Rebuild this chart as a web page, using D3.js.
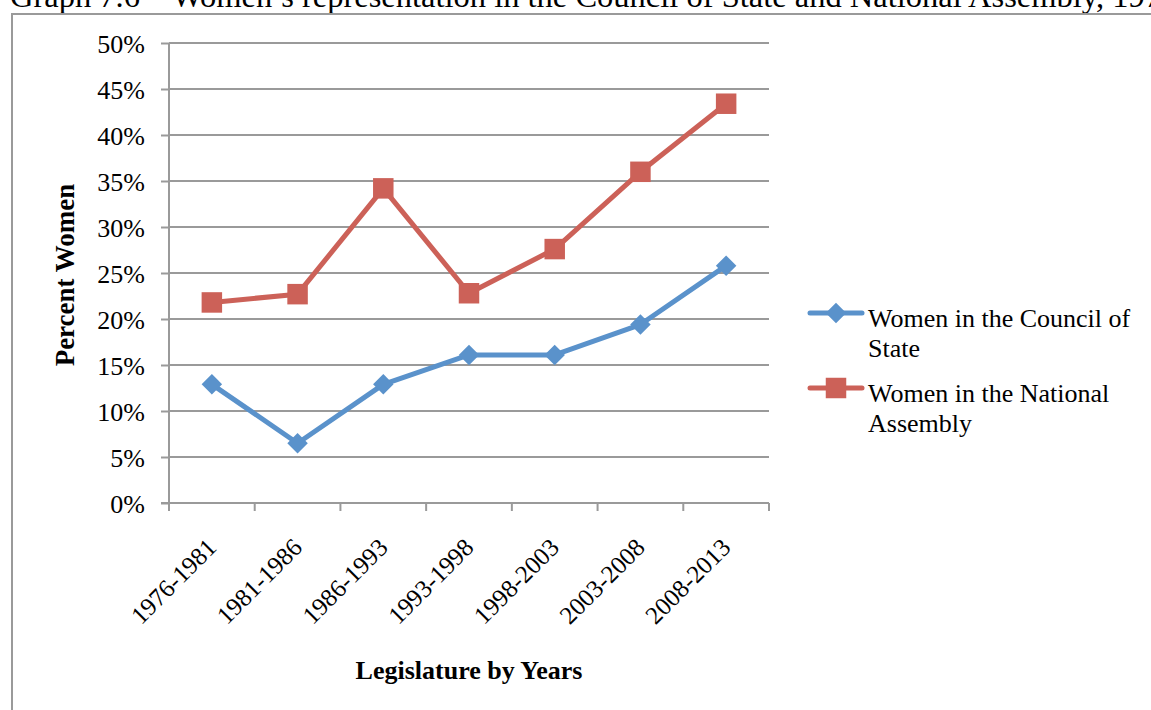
<!DOCTYPE html>
<html>
<head>
<meta charset="utf-8">
<script src="https://cdn.jsdelivr.net/npm/d3@7/dist/d3.min.js"></script>
<style>
  body { margin: 0; background: #fff; }
  svg text { font-family: "Liberation Serif", "Times New Roman", serif; fill: #000; }
</style>
</head>
<body>
<div id="chart"></div>
<script>
// Legislature periods on the x axis
const periods = ["1976-1981", "1981-1986", "1986-1993", "1993-1998", "1998-2003", "2003-2008", "2008-2013"];

// Percent women
const councilOfState = [12.9, 6.5, 12.9, 16.1, 16.1, 19.4, 25.8];
const nationalAssembly = [21.8, 22.7, 34.2, 22.8, 27.6, 36.0, 43.4];

const yTicks = [0, 5, 10, 15, 20, 25, 30, 35, 40, 45, 50];

const seriesNames = ["Women in the Council of State", "Women in the National Assembly"];
const legendLines = [["Women in the Council of", "State"], ["Women in the National", "Assembly"]];

const width = 1151, height = 710;
const plot = { left: 169, right: 769, top: 43, bottom: 503 };
const blue = "#5A92CB", red = "#CC6158", grid = "#9a9a9a";
const fontSize = "26px";

const svg = d3.select("#chart").append("svg")
    .attr("width", width)
    .attr("height", height);

// Cut-off caption above the chart frame (only its lower half shows)
svg.append("text")
    .attr("x", 10)
    .attr("y", 7)
    .style("font-size", "32.5px")
    .text("Graph 7.6 \u2013 Women\u2019s representation in the Council of State and National Assembly, 1976-2013");

// Chart frame (runs off the right and bottom edges)
svg.append("rect")
    .attr("x", 12)
    .attr("y", 14)
    .attr("width", 1160)
    .attr("height", 720)
    .attr("fill", "#fff")
    .attr("stroke", grid)
    .attr("stroke-width", 2);

const x = d3.scaleBand().domain(periods).range([plot.left, plot.right]);
const y = d3.scaleLinear().domain([0, 50]).range([plot.bottom, plot.top]);

// Gridlines
svg.append("g").selectAll("line")
    .data(yTicks.filter(t => t > 0))
    .join("line")
    .attr("x1", plot.left).attr("x2", plot.right)
    .attr("y1", d => y(d)).attr("y2", d => y(d))
    .attr("stroke", grid).attr("stroke-width", 2);

// Y axis
const yAxis = svg.append("g")
    .attr("transform", `translate(${plot.left},0)`)
    .call(d3.axisLeft(y).tickValues(yTicks).tickSize(8).tickPadding(16).tickFormat(d => d + "%"));
yAxis.selectAll("path, line").attr("stroke", grid).attr("stroke-width", 2);
yAxis.select(".domain").attr("d", `M0,${plot.top}V${plot.bottom}`);
yAxis.selectAll("text").style("font-size", fontSize).attr("dy", "0.35em");

// X axis: ticks sit on the band edges
const xAxis = svg.append("g").attr("transform", `translate(0,${plot.bottom})`);
xAxis.append("line")
    .attr("x1", plot.left - 8).attr("x2", plot.right)
    .attr("stroke", grid).attr("stroke-width", 2);
xAxis.selectAll(".edge")
    .data(periods.map(p => x(p)).concat([plot.right]))
    .join("line")
    .attr("class", "edge")
    .attr("x1", d => d).attr("x2", d => d)
    .attr("y1", 0).attr("y2", 8)
    .attr("stroke", grid).attr("stroke-width", 2);
xAxis.selectAll(".lbl")
    .data(periods)
    .join("text")
    .attr("class", "lbl")
    .attr("text-anchor", "end")
    .attr("transform", d => `translate(${x(d) + x.bandwidth() / 2 + 6},46) rotate(-45)`)
    .style("font-size", "25px")
    .text(d => d);

// Axis titles
svg.append("text")
    .attr("x", (plot.left + plot.right) / 2)
    .attr("y", 679)
    .attr("text-anchor", "middle")
    .style("font-size", fontSize)
    .style("font-weight", "bold")
    .text("Legislature by Years");

svg.append("text")
    .attr("transform", `translate(74,${(plot.top + plot.bottom) / 2 + 2}) rotate(-90)`)
    .attr("text-anchor", "middle")
    .style("font-size", "27px")
    .style("font-weight", "bold")
    .text("Percent Women");

// Lines and markers
const line = d3.line()
    .x((d, i) => x(periods[i]) + x.bandwidth() / 2)
    .y(d => y(d));

const series = [
    { name: seriesNames[0], values: councilOfState, color: blue, turn: 45,
      shape: d3.symbol().type(d3.symbolSquare).size(210) },
    { name: seriesNames[1], values: nationalAssembly, color: red, turn: 0,
      shape: d3.symbol().type(d3.symbolSquare).size(420) }
];

series.forEach(s => {
    svg.append("path")
        .datum(s.values)
        .attr("fill", "none")
        .attr("stroke", s.color)
        .attr("stroke-width", 5)
        .attr("stroke-linejoin", "round")
        .attr("d", line);

    svg.append("g").selectAll("path")
        .data(s.values)
        .join("path")
        .attr("transform", (d, i) =>
            `translate(${x(periods[i]) + x.bandwidth() / 2},${y(d)}) rotate(${s.turn})`)
        .attr("d", s.shape)
        .attr("fill", s.color);
});

// Legend
const legend = svg.append("g");
series.forEach((s, i) => {
    const ly = 313 + i * 75;
    const g = legend.append("g");
    g.append("line")
        .attr("x1", 810).attr("x2", 862)
        .attr("y1", ly).attr("y2", ly)
        .attr("stroke", s.color).attr("stroke-width", 5)
        .attr("stroke-linecap", "round");
    g.append("path")
        .attr("transform", `translate(836,${ly}) rotate(${s.turn})`)
        .attr("d", s.shape)
        .attr("fill", s.color);
    legendLines[i].forEach((t, k) => {
        g.append("text")
            .attr("x", 868)
            .attr("y", ly + 14 + k * 30)
            .style("font-size", fontSize)
            .text(t);
    });
});
</script>
</body>
</html>
